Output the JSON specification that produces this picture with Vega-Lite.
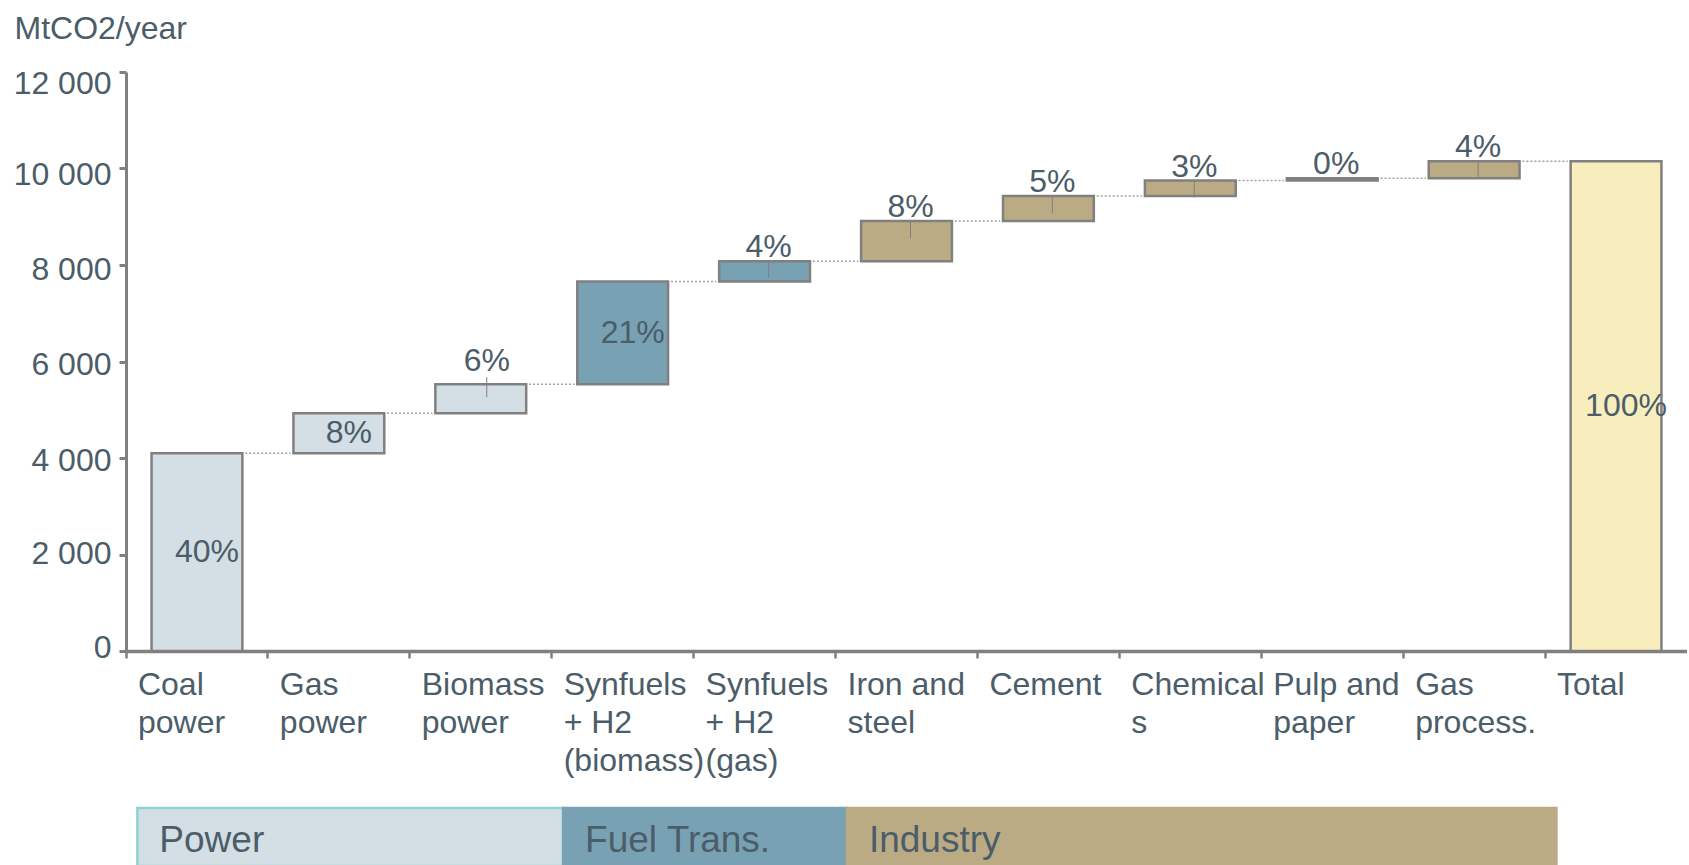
{
  "$schema": "https://vega.github.io/schema/vega-lite/v6.json",
  "background": "white",
  "padding": {"left": 13, "top": 12, "right": 0, "bottom": 0},
  "spacing": 157,
  "bounds": "flush",
  "config": {
    "view": {"stroke": null},
    "font": "Liberation Sans",
    "text": {"font": "Liberation Sans"},
    "axis": {"labelFont": "Liberation Sans", "titleFont": "Liberation Sans"}
  },
  "datasets": {
    "steps": [
      {"cat": "Coal power", "group": "Power", "start": 0, "end": 4100, "share": 0.40, "next": "Gas power"},
      {"cat": "Gas power", "group": "Power", "start": 4100, "end": 4930, "share": 0.08, "next": "Biomass power"},
      {"cat": "Biomass power", "group": "Power", "start": 4930, "end": 5530, "share": 0.06, "next": "Synfuels + H2 (biomass)"},
      {"cat": "Synfuels + H2 (biomass)", "group": "Fuel Trans.", "start": 5530, "end": 7660, "share": 0.21, "next": "Synfuels + H2 (gas)"},
      {"cat": "Synfuels + H2 (gas)", "group": "Fuel Trans.", "start": 7660, "end": 8080, "share": 0.04, "next": "Iron and steel"},
      {"cat": "Iron and steel", "group": "Industry", "start": 8080, "end": 8910, "share": 0.08, "next": "Cement"},
      {"cat": "Cement", "group": "Industry", "start": 8910, "end": 9430, "share": 0.05, "next": "Chemicals"},
      {"cat": "Chemicals", "group": "Industry", "start": 9430, "end": 9750, "share": 0.03, "next": "Pulp and paper"},
      {"cat": "Pulp and paper", "group": "Industry", "start": 9750, "end": 9800, "share": 0.00, "next": "Gas process."},
      {"cat": "Gas process.", "group": "Industry", "start": 9800, "end": 10150, "share": 0.04, "next": "Total"},
      {"cat": "Total", "group": "Total", "start": 0, "end": 10150, "share": 1.00, "next": null}
    ],
    "groups": [
      {"group": "Power", "first": "Coal power", "until": "Synfuels + H2 (biomass)"},
      {"group": "Fuel Trans.", "first": "Synfuels + H2 (biomass)", "until": "Iron and steel"},
      {"group": "Industry", "first": "Iron and steel", "until": "Total"}
    ]
  },
  "vconcat": [
    {
      "width": 1561,
      "height": 579,
      "data": {"name": "steps"},
      "layer": [
        {
          "mark": {"type": "bar", "stroke": "#808080", "strokeWidth": 2.5, "width": {"band": 0.64}},
          "encoding": {
            "x": {
              "field": "cat", "type": "nominal",
              "scale": {"domain": ["Coal power","Gas power","Biomass power","Synfuels + H2 (biomass)","Synfuels + H2 (gas)","Iron and steel","Cement","Chemicals","Pulp and paper","Gas process.","Total"], "paddingInner": 0, "paddingOuter": 0},
              "axis": {
                "title": null, "bandPosition": 0, "labelAngle": 0, "labelAlign": "left", "labelBaseline": "top",
                "labelOffset": -59, "labelPadding": 11, "tickSize": 7, "tickWidth": 2.5, "tickColor": "#808080",
                "domainColor": "#808080", "domainWidth": 3.5, "labelFontSize": 32, "labelColor": "#4b5d69",
                "labelOverlap": false, "labelBound": false, "labelLimit": 400, "labelLineHeight": 38,
                "labelExpr": "({'Coal power':['Coal','power'],'Gas power':['Gas','power'],'Biomass power':['Biomass','power'],'Synfuels + H2 (biomass)':['Synfuels','+ H2','(biomass)'],'Synfuels + H2 (gas)':['Synfuels','+ H2','(gas)'],'Iron and steel':['Iron and','steel'],'Chemicals':['Chemical','s'],'Pulp and paper':['Pulp and','paper'],'Gas process.':['Gas','process.']})[datum.value] || datum.value"
              }
            },
            "y": {
              "field": "start", "type": "quantitative",
              "scale": {"domain": [0, 12000], "nice": false},
              "axis": {
                "title": "MtCO2/year", "titleAngle": 0, "titleAlign": "left", "titleBaseline": "middle",
                "titleX": -112, "titleY": -44, "titleFontSize": 32, "titleFontWeight": "normal", "titleColor": "#4b5d69",
                "values": [0, 2000, 4000, 6000, 8000, 10000, 12000],
                "labelExpr": "replace(format(datum.value, ','), ',', ' ')",
                "labelOffset": {"condition": [
                  {"test": "datum.value == 12000", "value": 11},
                  {"test": "datum.value == 10000", "value": 6},
                  {"test": "datum.value == 8000", "value": 4},
                  {"test": "datum.value == 6000", "value": 3},
                  {"test": "datum.value == 4000", "value": 2},
                  {"test": "datum.value == 2000", "value": -1}
                ], "value": -4},
                "grid": false, "tickSize": 7, "tickWidth": 3, "tickColor": "#808080",
                "domainColor": "#808080", "domainWidth": 3, "labelPadding": 8,
                "labelFontSize": 32, "labelColor": "#4b5d69"
              }
            },
            "y2": {"field": "end"},
            "color": {
              "field": "group", "type": "nominal",
              "scale": {"domain": ["Power", "Fuel Trans.", "Industry", "Total"], "range": ["#d3dfe5", "#78a2b3", "#baab85", "#f8eebd"]},
              "legend": null
            }
          }
        },
        {
          "transform": [{"filter": "datum.next != null"}],
          "mark": {"type": "rule", "strokeDash": [2, 2], "color": "#a0a0a0", "strokeWidth": 1.5},
          "encoding": {
            "x": {"field": "cat", "type": "nominal", "bandPosition": 0.84},
            "x2": {"field": "next", "bandPosition": 0.16},
            "y": {"field": "end", "type": "quantitative"}
          }
        },
        {
          "transform": [{"filter": {"field": "cat", "oneOf": ["Synfuels + H2 (gas)", "Iron and steel", "Cement", "Chemicals", "Gas process."]}}],
          "mark": {"type": "rule", "color": "#808080", "strokeWidth": 1, "yOffset": -1, "y2Offset": 17, "xOffset": 4},
          "encoding": {
            "x": {"field": "cat", "type": "nominal"},
            "y": {"field": "end", "type": "quantitative"},
            "y2": {"field": "end"}
          }
        },
        {
          "transform": [{"filter": {"field": "cat", "equal": "Biomass power"}}],
          "mark": {"type": "rule", "color": "#808080", "strokeWidth": 1, "yOffset": -7, "y2Offset": 13, "xOffset": 6},
          "encoding": {
            "x": {"field": "cat", "type": "nominal"},
            "y": {"field": "end", "type": "quantitative"},
            "y2": {"field": "end"}
          }
        },
        {
          "transform": [{"filter": {"field": "cat", "oneOf": ["Synfuels + H2 (gas)", "Iron and steel", "Cement", "Chemicals", "Pulp and paper", "Gas process."]}}],
          "mark": {"type": "text", "fontSize": 32, "color": "#4b5d69", "baseline": "middle", "dy": -14, "dx": 4},
          "encoding": {
            "x": {"field": "cat", "type": "nominal"},
            "y": {"field": "end", "type": "quantitative"},
            "text": {"field": "share", "type": "quantitative", "format": ".0%"}
          }
        },
        {
          "transform": [{"filter": {"field": "cat", "equal": "Biomass power"}}],
          "mark": {"type": "text", "fontSize": 32, "color": "#4b5d69", "baseline": "middle", "dy": -23, "dx": 6},
          "encoding": {
            "x": {"field": "cat", "type": "nominal"},
            "y": {"field": "end", "type": "quantitative"},
            "text": {"field": "share", "type": "quantitative", "format": ".0%"}
          }
        },
        {
          "transform": [
            {"filter": {"field": "cat", "oneOf": ["Coal power", "Gas power", "Synfuels + H2 (biomass)", "Total"]}},
            {"fold": ["start", "end"], "as": ["edge", "level"]}
          ],
          "mark": {"type": "text", "fontSize": 32, "color": "#4b5d69", "baseline": "middle", "dx": 10},
          "encoding": {
            "x": {"field": "cat", "type": "nominal"},
            "y": {"aggregate": "mean", "field": "level", "type": "quantitative"},
            "text": {"field": "share", "type": "quantitative", "format": ".0%"}
          }
        }
      ]
    },
    {
      "width": 1561,
      "height": 58,
      "data": {"name": "groups"},
      "layer": [
        {
          "mark": {"type": "rect", "strokeWidth": 2.5},
          "encoding": {
            "x": {
              "field": "first", "type": "nominal", "bandPosition": 0.08,
              "scale": {"domain": ["Coal power","Gas power","Biomass power","Synfuels + H2 (biomass)","Synfuels + H2 (gas)","Iron and steel","Cement","Chemicals","Pulp and paper","Gas process.","Total"], "paddingInner": 0, "paddingOuter": 0},
              "axis": null
            },
            "x2": {"field": "until", "bandPosition": 0.08},
            "color": {
              "field": "group", "type": "nominal",
              "scale": {"domain": ["Power", "Fuel Trans.", "Industry", "Total"], "range": ["#cfdbe1", "#79a3b4", "#baab85", "#f8eebd"]},
              "legend": null
            },
            "stroke": {
              "field": "group", "type": "nominal",
              "scale": {"domain": ["Power", "Fuel Trans.", "Industry"], "range": ["#8fd3d3", "#79a3b4", "#baab85"]},
              "legend": null
            }
          }
        },
        {
          "mark": {"type": "text", "align": "left", "baseline": "middle", "dx": 22, "dy": 4, "fontSize": 37, "color": "#4b5d69"},
          "encoding": {
            "x": {"field": "first", "type": "nominal", "bandPosition": 0.08},
            "text": {"field": "group"}
          }
        }
      ]
    }
  ]
}
